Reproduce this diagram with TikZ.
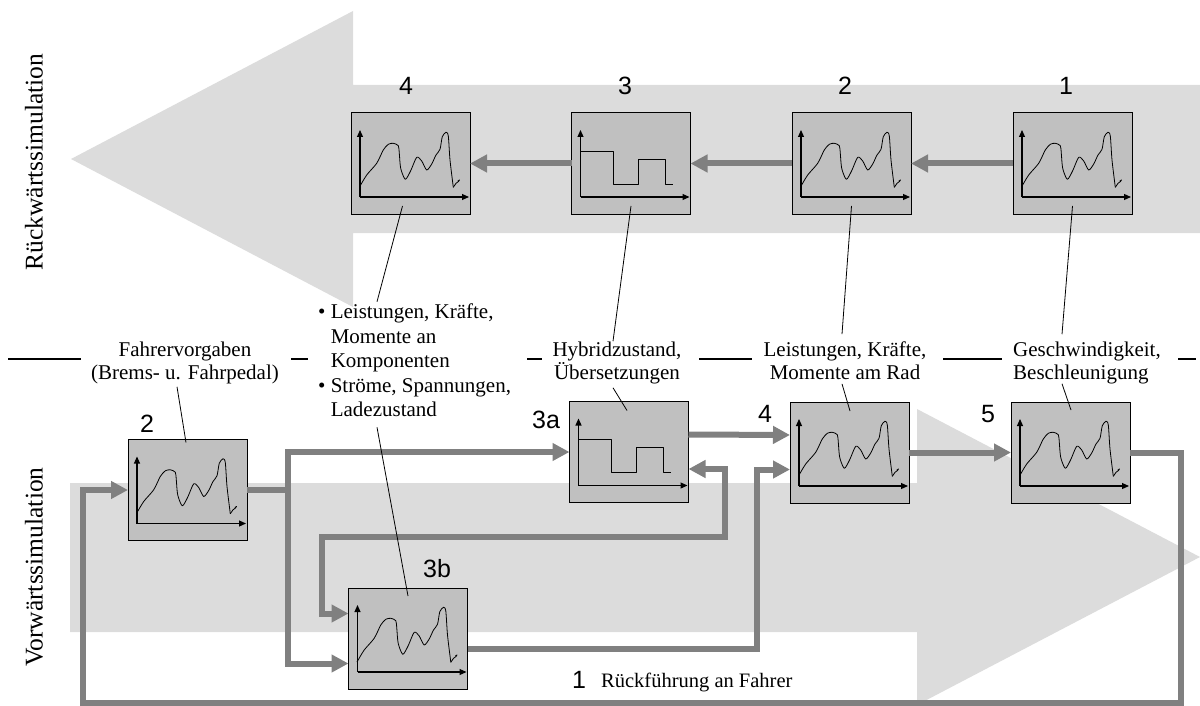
\documentclass[tikz,border=0pt]{standalone}
\usepackage{fontspec}
\setmainfont{Liberation Serif}
\newfontfamily\digitfont{Liberation Sans}
\usetikzlibrary{arrows.meta,calc}

\definecolor{bgarrow}{HTML}{DCDCDC}
\definecolor{boxfill}{HTML}{C0C0C0}
\definecolor{connc}{HTML}{808080}

\tikzset{
  plotbox/.style={draw=black, line width=1pt, fill=boxfill, minimum width=119pt,
    minimum height=101pt, inner sep=0pt, outer sep=0pt},
  conn/.style={draw=connc, line width=6pt, line join=miter,
    -{Triangle[length=17pt,width=17pt]}},
  connboth/.style={draw=connc, line width=6pt, line join=miter,
    {Triangle[length=17pt,width=17pt]}-{Triangle[length=17pt,width=17pt]}},
  leader/.style={draw=black, line width=0.8pt},
  lbl/.style={font=\fontsize{21}{23.5}\selectfont, inner sep=0pt, align=center,
    execute at begin node=\strut, execute at end node=\strut},
  num/.style={font=\digitfont\fontsize{25}{25}\selectfont, inner sep=0pt},
  sidelbl/.style={font=\fontsize{25.5}{26}\selectfont, rotate=90, inner sep=0pt},
  midline/.style={draw=black, line width=1.3pt},
  axis/.style={line width=1.1pt, -{Triangle[length=7pt,width=6pt]}},
  trace/.style={line width=0.8pt, line join=round},
  % signal with peaks, drawn from the box's upper left corner
  wavy/.pic={
    \draw[axis] (9,84) -- (9,17);
    \draw[axis] (9,84) -- (118,84);
    \draw[trace] plot[smooth, tension=0.45] coordinates {
      (8.5,74) (15.7,62) (25.7,50.3) (32.3,37) (37.3,31.3) (42.3,30.3)
      (47.3,32.7) (48.3,40.3) (49.7,55.3) (54.3,66.3) (59.7,57.7) (65.7,44.3)
      (70.7,48) (75.7,57) (80.7,51) (85,42) (89,36.3) (91.3,23.7) (95,19.3)
      (97.3,23) (99,47) (102.3,74.3)};
    \draw[trace] (102.3,74.3) -- (105,70.3) -- (107.5,68.5) -- (108.5,67)
      -- (106.8,68);
  },
  % switching signal
  steps/.pic={
    \draw[axis] (9,84) -- (9,17);
    \draw[axis] (9,84) -- (118,84);
    \draw[trace] (9,38) -- (42,38) -- (42,71) -- (67,71) -- (67,46) -- (94,46)
      -- (94,71) -- (101,71);
  }
}

\begin{document}
\begin{tikzpicture}[x=1pt,y=-1pt]
\useasboundingbox (0,0) rectangle (1200,706);

% wide background arrows
\fill[bgarrow] (1200,85) -- (353,85) -- (353,11) -- (71,159) -- (353,307)
  -- (353,233) -- (1200,233) -- cycle;
\fill[bgarrow] (70,483) -- (917,483) -- (917,409) -- (1200,557) -- (917,705)
  -- (917,632) -- (70,632) -- cycle;

% separating line between the two halves
\draw[midline] (8,359) -- (81,359);
\draw[midline] (291,359) -- (308,359);
\draw[midline] (527,359) -- (542,359);
\draw[midline] (699,359) -- (752,359);
\draw[midline] (943,359) -- (1002,359);
\draw[midline] (1178,359) -- (1196,359);

% side labels
\node[sidelbl] (rueck) at (34,162) {Rückwärtssimulation};
\node[sidelbl] (vorw) at (34,567) {Vorwärtssimulation};

% backward chain
\node[plotbox] (t4) at (410.5,163.5) {};
\node[plotbox] (t3) at (631,163.5) {};
\node[plotbox] (t2) at (851.5,163.5) {};
\node[plotbox] (t1) at (1072.5,163.5) {};
\pic at (t4.north west) {wavy};
\pic at (t3.north west) {steps};
\pic at (t2.north west) {wavy};
\pic at (t1.north west) {wavy};

% forward chain
\node[plotbox] (f2) at (187.5,490) {};
\node[plotbox] (a3) at (629,452) {};
\node[plotbox] (b4) at (849.5,452.5) {};
\node[plotbox] (b5) at (1070.5,452.5) {};
\node[plotbox] (b3b) at (408,638.5) {};
\pic at (f2.north west) {wavy};
\pic at (a3.north west) {steps};
\pic at (b4.north west) {wavy};
\pic at (b5.north west) {wavy};
\pic at (b3b.north west) {wavy};

% backward flow
\draw[conn] (t1.west) -- (t2.east);
\draw[conn] (t2.west) -- (t3.east);
\draw[conn] (t3.west) -- (t4.east);

% forward flow
\coordinate (split) at (288,490);
\draw[conn] (f2.east) -- (split) |- (a3.west);
\draw[conn] (split) |- ($(b3b.west)+(0,25)$);
\draw[connboth] ($(a3.east)+(0,17)$) -- (725,469) -- (725,537) -- (322,537)
  -- (322,613.5) -- ($(b3b.west)+(0,-25)$);
\draw[conn] ($(a3.east)+(0,-17.5)$) -- ($(b4.west)+(0,-17.5)$);
\draw[conn] ($(b3b.east)+(0,10)$) -- (757,648.5) -- (757,469.5)
  -- ($(b4.west)+(0,17)$);
\draw[conn] (b4.east) -- (b5.west);
\draw[conn] (b5.east) -- (1181,452.5) -- (1181,703) -- (83,703) -- (83,490)
  -- (f2.west);

% step numbers
\node[num] (n4) at (406,86) {4};
\node[num] (n3) at (625,86) {3};
\node[num] (n2) at (845,86) {2};
\node[num] (n1) at (1066,86) {1};
\node[num] (m2) at (147,424) {2};
\node[num] (m3a) at (546,420) {3a};
\node[num] (m4) at (765,414) {4};
\node[num] (m5) at (988,414) {5};
\node[num] (m3b) at (437,569) {3b};
\node[num] (m1) at (579,680) {1};
\node[font=\fontsize{20.5}{24}\selectfont, inner sep=0pt, anchor=base west]
  (feedback) at (601,687) {Rückführung an Fahrer};

% quantities
\node[lbl] (fahr) at (185,364) {Fahrervorgaben\\(Brems- u. Fahrpedal)};
\node[lbl, font=\fontsize{21}{24.5}\selectfont, align=left, anchor=west]
  (bul) at (318,364)
  {\textbullet\ Leistungen, Kräfte,\\
   \phantom{\textbullet\ }Momente an\\
   \phantom{\textbullet\ }Komponenten\\
   \textbullet\ Ströme, Spannungen,\\
   \phantom{\textbullet\ }Ladezustand};
\node[lbl] (hyb) at (617,364) {Hybridzustand,\\Übersetzungen};
\node[lbl] (leis) at (845,364) {Leistungen, Kräfte,\\Momente am Rad};
\node[lbl, align=left, anchor=west] (gesch) at (1013,364)
  {Geschwindigkeit,\\Beschleunigung};

% leader lines
\draw[leader] ($(t4.south)+(-8,-8)$) -- ($(bul.north west)+(59,-2)$);
\draw[leader] ($(t3.south)+(0,-8)$) -- ($(hyb.north)+(-4,0)$);
\draw[leader] ($(t2.south)+(0,-8)$) -- ($(leis.north)+(-3,-7)$);
\draw[leader] ($(t1.south)+(0,-8)$) -- ($(gesch.north west)+(49,-7)$);
\draw[leader] ($(fahr.south)+(-8,0)$) -- ($(f2.north)+(-1.5,3)$);
\draw[leader] ($(bul.south west)+(59,3)$) -- ($(b3b.north)+(0,8)$);
\draw[leader] ($(hyb.south)+(-4,1)$) -- ($(a3.north)+(-2,9)$);
\draw[leader] ($(leis.south)+(-3,-3)$) -- ($(b4.north)+(0.5,9)$);
\draw[leader] ($(gesch.south west)+(49,-3)$) -- ($(b5.north)+(0.5,8)$);
\end{tikzpicture}
\end{document}
